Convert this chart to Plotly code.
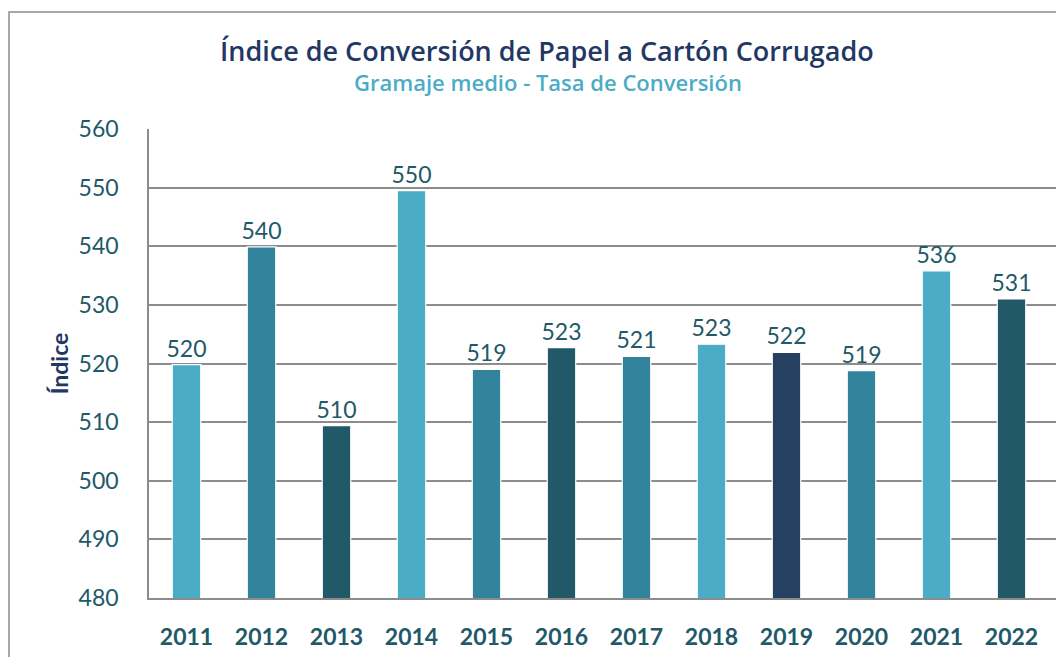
import plotly.graph_objects as go

years = ["2011", "2012", "2013", "2014", "2015", "2016", "2017", "2018", "2019", "2020", "2021", "2022"]
values = [519.8, 539.9, 509.4, 549.5, 519.0, 522.7, 521.2, 523.3, 521.9, 518.8, 535.8, 531.0]
labels = ["520", "540", "510", "550", "519", "523", "521", "523", "522", "519", "536", "531"]
colors = ["#4BACC6", "#31849B", "#215968", "#4BACC6", "#31849B", "#215968",
          "#31849B", "#4BACC6", "#254061", "#31849B", "#4BACC6", "#215968"]

title_text = "Índice de Conversión de Papel a Cartón Corrugado"
subtitle_text = "Gramaje medio - Tasa de Conversión"
y_title = "Índice"
y_ticks = [480, 490, 500, 510, 520, 530, 540, 550, 560]

# page offset (body margin) compensation
OX, OY = 8, 8
L, T, B = 149 - OX, 129 - OY, 598 - OY
W, H = 1064, 657
PW = W - OX - L
PH = B - T

def px(x):
    return (x - OX - L) / PW

def py(y):
    return (B - (y - OY)) / PH

fig = go.Figure()
fig.add_trace(go.Bar(
    x=years, y=values, text=labels, textposition="outside", constraintext="none",
    textfont=dict(family="Lato, Open Sans, sans-serif", size=23, color="#215968"),
    marker=dict(color=colors, line=dict(color="#FFFFFF", width=1.2)),
    width=0.38, cliponaxis=False,
))

fig.update_layout(
    width=W, height=H,
    margin=dict(l=L, r=OX, t=T, b=H - B),
    paper_bgcolor="white", plot_bgcolor="white",
    showlegend=False,
    font=dict(family="Lato, Open Sans, sans-serif"),
    xaxis=dict(
        type="category", range=[-0.5, 11.7],
        showline=True, linecolor="#8C8C8C", linewidth=1.5,
        showgrid=False, ticks="",
        tickfont=dict(family="Lato, Open Sans, sans-serif", size=23, color="#215968", weight="bold"),
        ticklabelstandoff=18,
    ),
    yaxis=dict(
        range=[480, 560], tickvals=y_ticks,
        showline=True, linecolor="#8C8C8C", linewidth=1.5,
        showgrid=True, gridcolor="#8C8C8C", gridwidth=1.5,
        ticks="", zeroline=False,
        tickfont=dict(family="Lato, Open Sans, sans-serif", size=23, color="#215968"),
        ticklabelstandoff=24,
        title=dict(text=y_title, font=dict(family="Lato, Open Sans, sans-serif", size=23, color="#1F3864", weight="bold"), standoff=4),
    ),
    annotations=[
        dict(text=title_text, xref="paper", yref="paper", x=px(547), y=py(50),
             showarrow=False, xanchor="center", yanchor="middle",
             font=dict(family="Open Sans, sans-serif", size=27, color="#1F3864", weight=600)),
        dict(text=subtitle_text, xref="paper", yref="paper", x=px(548), y=py(82),
             showarrow=False, xanchor="center", yanchor="middle",
             font=dict(family="Open Sans, sans-serif", size=22, color="#4BACC6", weight=600)),
    ],
    shapes=[
        dict(type="rect", xref="paper", yref="paper",
             x0=px(OX + 1), x1=1.2, y0=-0.3, y1=py(12),
             line=dict(color="#8C8C8C", width=1.5), fillcolor="rgba(0,0,0,0)", layer="below"),
    ],
)

fig.write_html("out.html")
